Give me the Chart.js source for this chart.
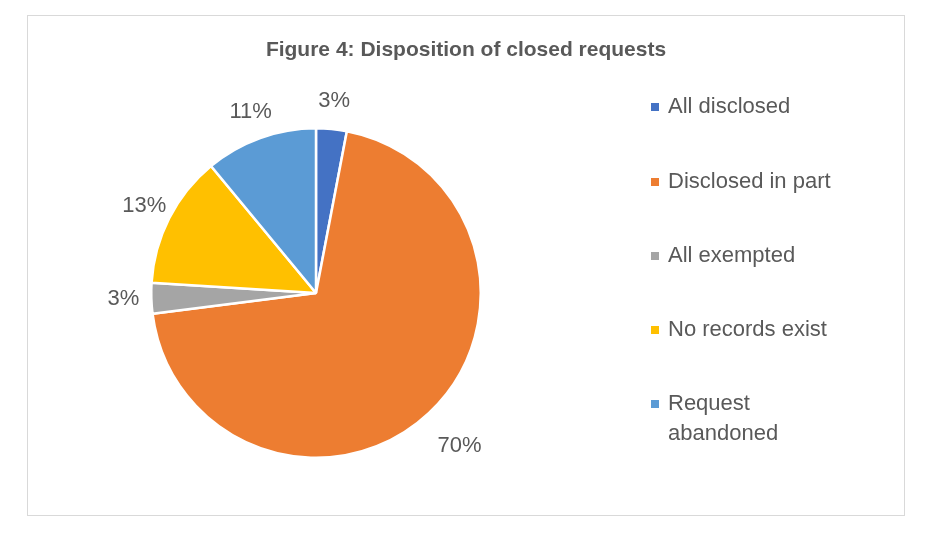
<!DOCTYPE html><html><head><script src="https://cdn.jsdelivr.net/npm/chart.js@4"></script>
<style>body{margin:0;background:#fff}#w{width:928px;height:533px}</style></head><body><div id="w"><canvas id="c"></canvas></div>
<script>
const categories=["All disclosed","Disclosed in part","All exempted","No records exist","Request abandoned"];
const legendLines=[["All disclosed"],["Disclosed in part"],["All exempted"],["No records exist"],["Request","abandoned"]];
const values=[3,70,3,13,11];
const colors=["#4472C4","#ED7D31","#A5A5A5","#FFC000","#5B9BD5"];
const extra={id:'extra',afterDraw(ch){const c=ch.ctx;c.save();
c.strokeStyle='#D9D9D9';c.lineWidth=1;c.strokeRect(27.5,15.5,877,500);
c.fillStyle='#595959';c.font='bold 21px "Liberation Sans",Arial';c.textAlign='center';c.textBaseline='middle';
c.fillText('Figure 4: Disposition of closed requests',466,50);
const m=ch.getDatasetMeta(0);c.font='22px "Liberation Sans",Arial';
m.data.forEach((a,i)=>{const ang=(a.startAngle+a.endAngle)/2;const r=a.outerRadius+(i==1?45:28);
c.fillText(values[i]+'%',a.x+Math.cos(ang)*r,a.y+Math.sin(ang)*r);});
c.textAlign='left';let y=[107,182,256,330,404];
legendLines.forEach((ls,i)=>{c.fillStyle=colors[i];c.fillRect(651,y[i]-4,8,8);c.fillStyle='#595959';
ls.forEach((t,j)=>c.fillText(t,668,y[i]+j*30));});c.restore();}};
new Chart(document.getElementById('c'),{type:'pie',data:{labels:categories,datasets:[{data:values,backgroundColor:colors,borderColor:'#fff',borderWidth:2.5}]},
options:{responsive:true,maintainAspectRatio:false,animation:false,layout:{padding:{left:150,right:446,top:127,bottom:74}},
plugins:{legend:{display:false},tooltip:{enabled:false}}},plugins:[extra]});
</script></body></html>
